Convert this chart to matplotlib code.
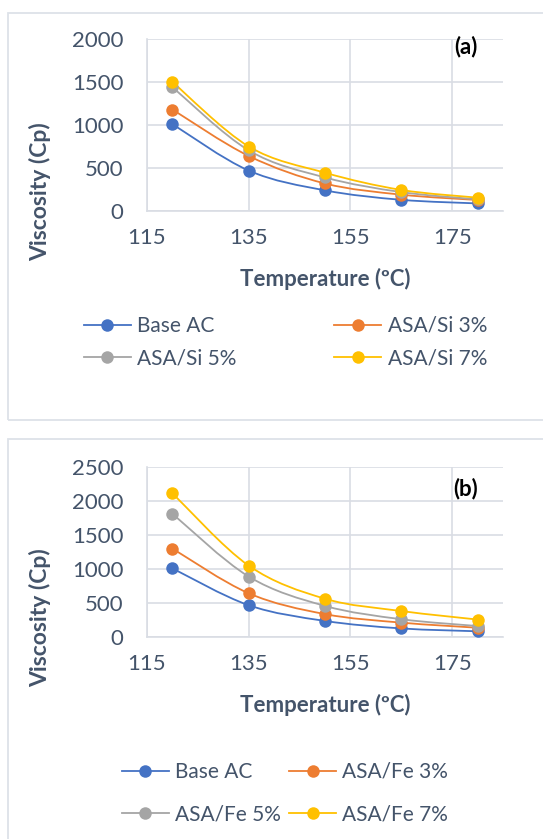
import matplotlib
matplotlib.use("Agg")
import matplotlib.pyplot as plt
from matplotlib.path import Path
from matplotlib.patches import PathPatch, Rectangle
from matplotlib.lines import Line2D

plt.rcParams["font.family"] = ["Lato", "DejaVu Sans"]

TEMPERATURE = [120, 135, 150, 165, 180]
X_TICKS = [115, 135, 155, 175]

BASE_AC = [1010, 470, 240, 130, 88]
SI_3 = [1180, 640, 320, 190, 128]
SI_5 = [1440, 705, 390, 220, 135]
SI_7 = [1500, 750, 445, 245, 155]

FE_3 = [1300, 645, 340, 215, 140]
FE_5 = [1810, 890, 460, 265, 165]
FE_7 = [2110, 1050, 565, 385, 260]

LABELS_SI = ["Base AC", "ASA/Si 3%", "ASA/Si 5%", "ASA/Si 7%"]
LABELS_FE = ["Base AC", "ASA/Fe 3%", "ASA/Fe 5%", "ASA/Fe 7%"]

COLORS = ["#4472C4", "#ED7D31", "#A5A5A5", "#FFC000"]
TEXT = "#44546A"
GRID = "#D9DDE4"
W, H = 543, 839


def fx(px):
    return px / W


def fy(py):
    return 1 - py / H


def smooth_path(xs, ys):
    # Excel-like smoothed line: cubic bezier through every point
    pts = list(zip(xs, ys))
    verts = [pts[0]]
    codes = [Path.MOVETO]
    for i in range(len(pts) - 1):
        p0 = pts[max(i - 1, 0)]
        p1 = pts[i]
        p2 = pts[i + 1]
        p3 = pts[min(i + 2, len(pts) - 1)]
        c1 = (p1[0] + (p2[0] - p0[0]) / 6, p1[1] + (p2[1] - p0[1]) / 6)
        c2 = (p2[0] - (p3[0] - p1[0]) / 6, p2[1] - (p3[1] - p1[1]) / 6)
        verts += [c1, c2, p2]
        codes += [Path.CURVE4] * 3
    return Path(verts, codes)


def draw_panel(fig, top, bottom, series, labels, ymax, tag, tag_y,
               ylabel_y, legend_x, legend_y, colspacing, rowspacing):
    ax = fig.add_axes([fx(147), fy(bottom), (503 - 147) / W, (bottom - top) / H])
    for values, color in zip(series, COLORS):
        ax.add_patch(PathPatch(smooth_path(TEMPERATURE, values), fill=False,
                               edgecolor=color, linewidth=1.3, zorder=3))
        ax.plot(TEMPERATURE, values, "o", color=color, markersize=9,
                markeredgewidth=0, zorder=4)
    ax.set_xlim(115, 185)
    ax.set_ylim(0, ymax)
    ax.set_xticks(X_TICKS)
    ax.set_yticks(range(0, ymax + 1, 500))
    ax.grid(True, color=GRID, linewidth=1.2)
    ax.set_axisbelow(True)
    for side in ["top", "right"]:
        ax.spines[side].set_visible(False)
    for side in ["left", "bottom"]:
        ax.spines[side].set_color(GRID)
        ax.spines[side].set_linewidth(1.2)
    ax.tick_params(length=0, labelsize=16, labelcolor=TEXT)
    ax.tick_params(axis="y", pad=17)
    ax.tick_params(axis="x", pad=12)
    ax.set_xlabel("Temperature (ºC)", fontsize=16, fontweight="bold",
                  color=TEXT, va="center")
    ax.xaxis.set_label_coords(0.5, -(68) / (bottom - top))
    ax.set_ylabel("Viscosity (Cp)", fontsize=16.5, fontweight="bold",
                  color=TEXT, va="center")
    ax.yaxis.set_label_coords((40 - 147) / 356, (bottom - ylabel_y) / (bottom - top))
    ax.text((466 - 147) / 356, (bottom - tag_y) / (bottom - top), tag,
            transform=ax.transAxes, fontsize=16, fontweight="bold",
            color="black", ha="center", va="center")

    handles = [Line2D([], [], color=c, linewidth=1.3, marker="o",
                      markersize=9, markeredgewidth=0) for c in COLORS]
    order = [0, 2, 1, 3]
    fig.legend([handles[i] for i in order], [labels[i] for i in order],
               ncol=2, loc="upper left",
               bbox_to_anchor=(fx(legend_x), fy(legend_y)),
               frameon=False, fontsize=15, labelcolor=TEXT,
               handlelength=2.25, handletextpad=0.3,
               columnspacing=colspacing, labelspacing=rowspacing,
               borderpad=0, borderaxespad=0)
    return ax


fig = plt.figure(figsize=(W / 100, H / 100), dpi=100)

fig.add_artist(Rectangle((fx(8), fy(420)), fx(560) - fx(8), fy(13) - fy(420),
                         transform=fig.transFigure, fill=False,
                         edgecolor="#DDE2E8", linewidth=1.3))
fig.add_artist(Rectangle((fx(8), fy(870)), fx(560) - fx(8), fy(439) - fy(870),
                         transform=fig.transFigure, fill=False,
                         edgecolor="#DDE2E8", linewidth=1.3))

draw_panel(fig, 39, 211, [BASE_AC, SI_3, SI_5, SI_7], LABELS_SI, 2000,
           "(a)", 47, 192, 84, 316, 4.7, 0.6)
draw_panel(fig, 466.7, 637.3, [BASE_AC, FE_3, FE_5, FE_7], LABELS_FE, 2500,
           "(b)", 489, 618, 122, 762, 0.4, 1.08)

fig.savefig("out.png", dpi=100)
